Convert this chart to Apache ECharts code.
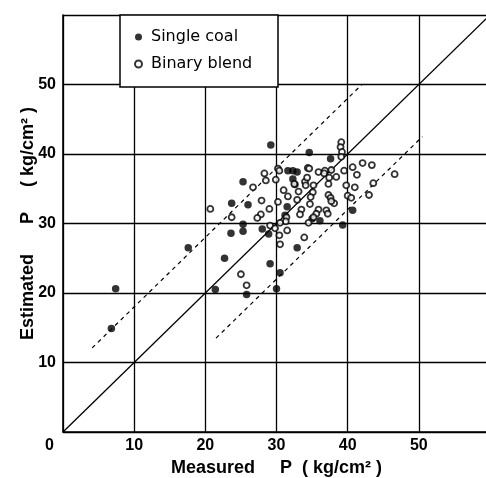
<!DOCTYPE html>
<html><head><meta charset="utf-8">
<script src="https://cdn.jsdelivr.net/npm/echarts@6/dist/echarts.min.js"></script>
<style>html,body{margin:0;padding:0;background:#fff}#c{width:486px;height:478px}</style>
</head><body><div id="c"></div>
<script>
const xTicks = [0, 10, 20, 30, 40, 50, 60];
const yTicks = [0, 10, 20, 30, 40, 50, 60];
const singleCoal = [
  [6.8,14.9],[7.4,20.6],[17.6,26.5],[22.7,25.0],[21.4,20.5],[29.2,41.3],[34.6,40.2],
  [37.6,39.3],[25.3,36.0],[23.7,32.9],[26.0,32.7],[23.6,28.6],[25.3,29.9],[25.3,28.9],
  [28.0,29.2],[28.9,28.5],[29.1,24.2],[30.5,22.9],[30.0,20.6],[25.8,19.8],[32.9,26.5],
  [40.7,31.9],[39.3,29.8],[36.1,30.4],[35.0,30.7],[31.6,37.6],[32.3,37.6],[32.9,37.4],
  [32.3,36.4],[32.6,35.6],[31.5,32.4],[31.2,31.2]
];
const binaryBlend = [
  [39.1,41.7],[39.0,41.0],[39.2,40.3],[39.1,39.6],[42.1,38.7],[43.4,38.4],[40.7,38.1],
  [41.3,37.0],[39.5,37.6],[37.7,37.7],[36.8,37.6],[35.9,37.4],[36.7,37.2],[34.4,38.0],
  [34.6,37.9],[30.2,37.9],[30.4,37.6],[28.3,37.2],[28.5,36.2],[29.9,36.3],[26.7,35.2],
  [27.9,33.3],[29.0,32.1],[30.2,33.1],[31.0,34.8],[31.6,33.9],[32.9,33.4],[32.5,35.7],
  [33.1,34.6],[34.0,36.0],[34.3,36.6],[35.2,35.5],[34.1,35.5],[35.1,34.5],[34.8,33.8],
  [34.7,32.8],[37.3,35.7],[38.4,36.7],[37.4,36.6],[39.8,35.5],[41.0,35.2],[43.6,35.8],
  [43.0,34.1],[40.0,34.0],[40.5,33.7],[37.3,34.1],[37.6,33.7],[38.1,32.9],[37.7,33.2],
  [37.0,31.9],[35.9,32.0],[33.5,32.0],[33.3,31.3],[35.6,31.4],[37.2,31.4],[35.2,30.9],
  [34.5,30.1],[31.4,30.9],[31.3,30.3],[30.5,30.1],[29.1,29.7],[29.8,29.3],[30.4,28.3],
  [30.5,27.0],[31.5,29.0],[33.9,28.0],[27.8,31.3],[27.3,30.8],[23.7,30.9],[20.7,32.1],
  [25.0,22.7],[25.8,21.1],[46.6,37.1]
];
const identityLine = [[0,0],[60,60]];
const upperBound = [[4.1,12.1],[42,50]];
const lowerBound = [[21.5,13.5],[50.5,42.5]];

const FONT = 'Liberation Sans';
const chart = echarts.init(document.getElementById('c'), null, {renderer:'canvas'});
const axisCommon = {
  type:'value', min:0, max:60, interval:10,
  axisLine:{show:true, onZero:false, lineStyle:{color:'#000', width:1.6}},
  axisTick:{show:false},
  splitLine:{show:true, showMinLine:true, showMaxLine:true, lineStyle:{color:'#000', width:1.3}},
  nameTextStyle:{color:'#000', fontFamily:FONT, fontSize:18, fontWeight:'bold'}
};
const tickFmt = v => (v === 0 || v === 60) ? '' : String(v);
chart.setOption({
  animation:false,
  backgroundColor:'#fff',
  grid:{left:63, top:15, width:427, height:417, containLabel:false, outerBoundsMode:'none'},
  xAxis:Object.assign({}, axisCommon, {
    name:'Measured     P  ( kg/cm² )', nameLocation:'middle', nameGap:27,
    axisLabel:{color:'#000', fontFamily:FONT, fontSize:16, fontWeight:'bold', margin:6, formatter:tickFmt}
  }),
  yAxis:Object.assign({}, axisCommon, {
    name:'Estimated      P     ( kg/cm² )', nameLocation:'middle', nameGap:26, nameMoveOverlap:false,
    axisLabel:{color:'#000', fontFamily:FONT, fontSize:16, fontWeight:'bold', margin:7, formatter:tickFmt}
  }),
  legend:{
    left:134, top:28, padding:0, orient:'vertical', itemGap:9, itemWidth:7, itemHeight:7,
    z:20, icon:'circle',
    textStyle:{color:'#000', fontFamily:'DejaVu Sans', fontSize:16, lineHeight:18, padding:[0,0,0,4]},
    data:['Single coal','Binary blend']
  },
  graphic:[
    {type:'rect', z:15, shape:{x:120, y:15, width:158, height:72},
     style:{fill:'#fff', stroke:'#000', lineWidth:1.5}},
    {type:'text', z:15, x:45, y:438, style:{text:'0', fill:'#000', font:'bold 16px "Liberation Sans"'}}
  ],
  series:[
    {type:'line', data:identityLine, symbol:'none', silent:true, z:1,
     lineStyle:{color:'#000', width:1.3}},
    {type:'line', data:upperBound, symbol:'none', silent:true, z:1,
     lineStyle:{color:'#000', width:1.2, type:[4,4]}},
    {type:'line', data:lowerBound, symbol:'none', silent:true, z:1,
     lineStyle:{color:'#000', width:1.2, type:[4,4]}},
    {name:'Single coal', type:'scatter', data:singleCoal, symbol:'circle', symbolSize:7.5, z:3,
     itemStyle:{color:'#000'}},
    {name:'Binary blend', type:'scatter', data:binaryBlend, symbol:'circle', symbolSize:6, z:4,
     itemStyle:{color:'#fff', borderColor:'#000', borderWidth:1.8}}
  ]
});
</script></body></html>
